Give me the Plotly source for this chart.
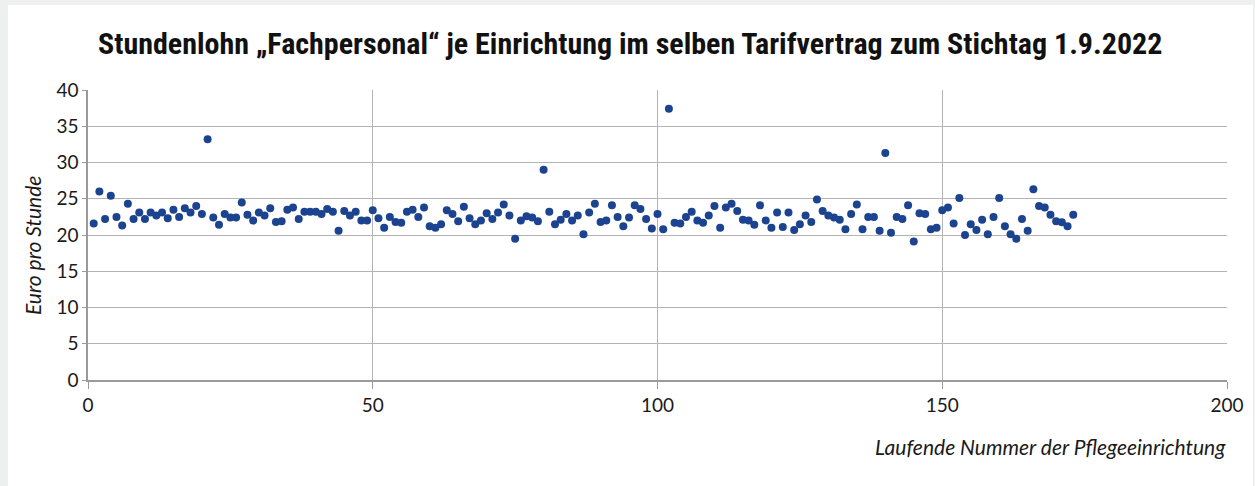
import plotly.graph_objects as go

einrichtung = list(range(1, 174))
stundenlohn = [
    21.6, 26.0, 22.2, 25.4, 22.5, 21.3, 24.3, 22.2, 23.1, 22.2,
    23.1, 22.7, 23.1, 22.3, 23.5, 22.5, 23.7, 23.1, 24.0, 22.9,
    33.2, 22.4, 21.4, 22.9, 22.4, 22.4, 24.5, 22.8, 22.0, 23.1,
    22.7, 23.7, 21.8, 21.9, 23.5, 23.8, 22.2, 23.2, 23.2, 23.2,
    22.9, 23.6, 23.2, 20.6, 23.3, 22.7, 23.2, 22.0, 22.0, 23.4,
    22.3, 21.0, 22.5, 21.8, 21.7, 23.2, 23.5, 22.5, 23.8, 21.2,
    21.0, 21.5, 23.4, 22.9, 21.9, 23.9, 22.3, 21.5, 22.0, 23.0,
    22.2, 23.1, 24.2, 22.7, 19.5, 22.0, 22.6, 22.4, 21.9, 29.0,
    23.2, 21.5, 22.1, 22.9, 22.0, 22.7, 20.1, 23.1, 24.3, 21.8,
    22.0, 24.1, 22.5, 21.2, 22.4, 24.1, 23.6, 22.2, 20.9, 22.9,
    20.8, 37.4, 21.7, 21.6, 22.5, 23.2, 22.0, 21.7, 22.7, 24.0,
    21.0, 23.8, 24.3, 23.3, 22.1, 22.0, 21.4, 24.1, 22.0, 21.0,
    23.1, 21.1, 23.1, 20.7, 21.5, 22.7, 21.8, 24.9, 23.3, 22.7,
    22.4, 22.1, 20.8, 22.9, 24.2, 20.8, 22.5, 22.5, 20.6, 31.3,
    20.3, 22.5, 22.2, 24.1, 19.1, 23.0, 22.9, 20.8, 21.0, 23.4,
    23.8, 21.6, 25.1, 20.0, 21.5, 20.7, 22.1, 20.1, 22.5, 25.1,
    21.2, 20.1, 19.5, 22.2, 20.6, 26.3, 24.0, 23.8, 22.8, 21.9,
    21.75, 21.2, 22.8,
]

title_text = "Stundenlohn „Fachpersonal“ je Einrichtung im selben Tarifvertrag zum Stichtag 1.9.2022"
x_title = "Laufende Nummer der Pflegeeinrichtung"
y_title = "Euro pro Stunde"

W, H = 1255, 486
ML, MR, MT, MB = 88, 28, 90, 106
PW = W - ML - MR
PH = H - MT - MB

def px_x(p):
    return (p - ML) / PW

def px_y(p):
    return (H - MB - p) / PH

fig = go.Figure()
fig.add_trace(go.Scatter(
    x=einrichtung, y=stundenlohn, mode="markers",
    marker=dict(color="#1b438f", size=8, line=dict(width=0)),
    hoverinfo="x+y", showlegend=False,
))

grid = "#b4b4b4"
tickfont = dict(family="Lato, Carlito, Liberation Sans, sans-serif", size=19, color="#1a1a1a")

fig.update_layout(
    width=W, height=H,
    margin=dict(l=ML, r=MR, t=MT, b=MB),
    paper_bgcolor="white", plot_bgcolor="white",
    xaxis=dict(range=[0, 200], tickvals=[0, 50, 100, 150, 200], showgrid=True,
               gridcolor=grid, gridwidth=1, zeroline=False, showline=True,
               linecolor="#9a9a9a", linewidth=1.5, ticks="outside", ticklen=7,
               tickcolor="#9a9a9a", tickfont=tickfont, mirror=False),
    yaxis=dict(range=[0, 40], tickvals=[0, 5, 10, 15, 20, 25, 30, 35, 40], showgrid=True,
               gridcolor=grid, gridwidth=1, zeroline=False, showline=True,
               linecolor="#9a9a9a", linewidth=1.5, ticks="outside", ticklen=4,
               tickcolor="#9a9a9a", tickfont=tickfont),
    shapes=[
        dict(type="rect", xref="paper", yref="paper", x0=px_x(0), x1=px_x(8),
             y0=px_y(H), y1=px_y(0), fillcolor="#eef0ef", line=dict(width=0), layer="below"),
        dict(type="rect", xref="paper", yref="paper", x0=px_x(0), x1=px_x(W),
             y0=px_y(5), y1=px_y(0), fillcolor="#eef0ef", line=dict(width=0), layer="below"),
        dict(type="rect", xref="paper", yref="paper", x0=px_x(1253), x1=px_x(W),
             y0=px_y(H), y1=px_y(0), fillcolor="#eef0ef", line=dict(width=0), layer="below"),
    ],
    annotations=[
        dict(text="<b>" + title_text + "</b>", xref="paper", yref="paper",
             x=px_x(630), y=px_y(44), xanchor="center", yanchor="middle", showarrow=False,
             font=dict(family="Liberation Sans Narrow, Roboto Condensed, Roboto, sans-serif", size=30, color="#111111")),
        dict(text="<i>" + x_title + "</i>", xref="paper", yref="paper",
             x=px_x(1228), y=px_y(446), xanchor="right", yanchor="middle", showarrow=False,
             font=dict(family="Lato, Carlito, sans-serif", size=21, color="#1a1a1a")),
        dict(text="<i>" + y_title + "</i>", xref="paper", yref="paper",
             x=px_x(32), y=px_y(246), xanchor="center", yanchor="middle", showarrow=False,
             textangle=-90,
             font=dict(family="Lato, Carlito, sans-serif", size=21, color="#1a1a1a")),
    ],
)

fig.write_html("out.html", config={"displayModeBar": False},
               post_script="document.body.style.margin='0';")
